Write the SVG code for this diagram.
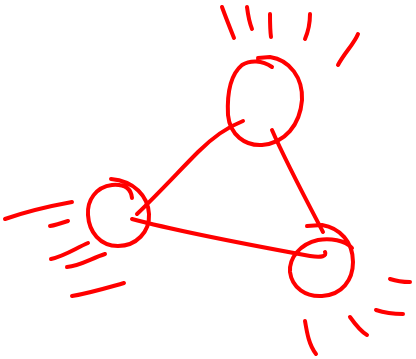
<svg xmlns="http://www.w3.org/2000/svg" width="416" height="359" viewBox="0 0 416 359">
<style>
.s{fill:none;stroke:#ff0000;stroke-width:4;stroke-linecap:round;stroke-linejoin:round}
</style>
<rect width="416" height="359" fill="#ffffff"/>
<g id="connectors">
<path class="s" d="M243,121 C225,128 210,140 198,152 C180,170 160,192 137,214"/>
<path class="s" d="M272,130 C285,160 302,192 323,232"/>
<path class="s" d="M132,219 C180,232 250,245 310,256 C322,258 327,256 325,252"/>
</g>
<g id="node-top">
<path class="s" d="M272,67 C262,60 250,60 242,65 C230,75 227,95 228,115 C230,135 245,146 262,145 C285,143 300,125 302,100 C303,78 290,60 270,57 L258,58"/>
</g>
<g id="node-left">
<path class="s" d="M132,198 C131,188 124,184 112,185 C96,187 87,200 88,215 C89,232 100,246 118,246 C136,246 150,232 149,214 C148,196 134,181 111,179"/>
</g>
<g id="node-right">
<path class="s" d="M352,248 C345,240 330,238 318,240 C300,244 289,258 290,272 C292,288 306,297 322,296 C342,295 353,280 353,262 C353,242 340,228 322,225 L307,226"/>
</g>
<g id="motion-lines">
<path class="s" d="M222,7 C226,18 230,28 234,38"/>
<path class="s" d="M247,7 C248,15 250,24 252,29"/>
<path class="s" d="M270,14 C270,22 270,30 271,37"/>
<path class="s" d="M310,14 C310,22 308,32 305,39"/>
<path class="s" d="M358,34 C354,44 345,52 338,65"/>
<path class="s" d="M5,219 C25,212 50,206 72,202"/>
<path class="s" d="M50,226 C56,225 62,223 68,221"/>
<path class="s" d="M51,259 C65,256 76,248 88,243"/>
<path class="s" d="M67,267 C80,266 92,258 105,254"/>
<path class="s" d="M72,296 C90,293 106,288 124,283"/>
<path class="s" d="M390,279 C396,281 403,282 410,282"/>
<path class="s" d="M376,310 C385,313 394,314 403,314"/>
<path class="s" d="M350,317 C355,324 360,331 367,335"/>
<path class="s" d="M305,321 C307,333 309,345 316,354"/>
</g>
</svg>
